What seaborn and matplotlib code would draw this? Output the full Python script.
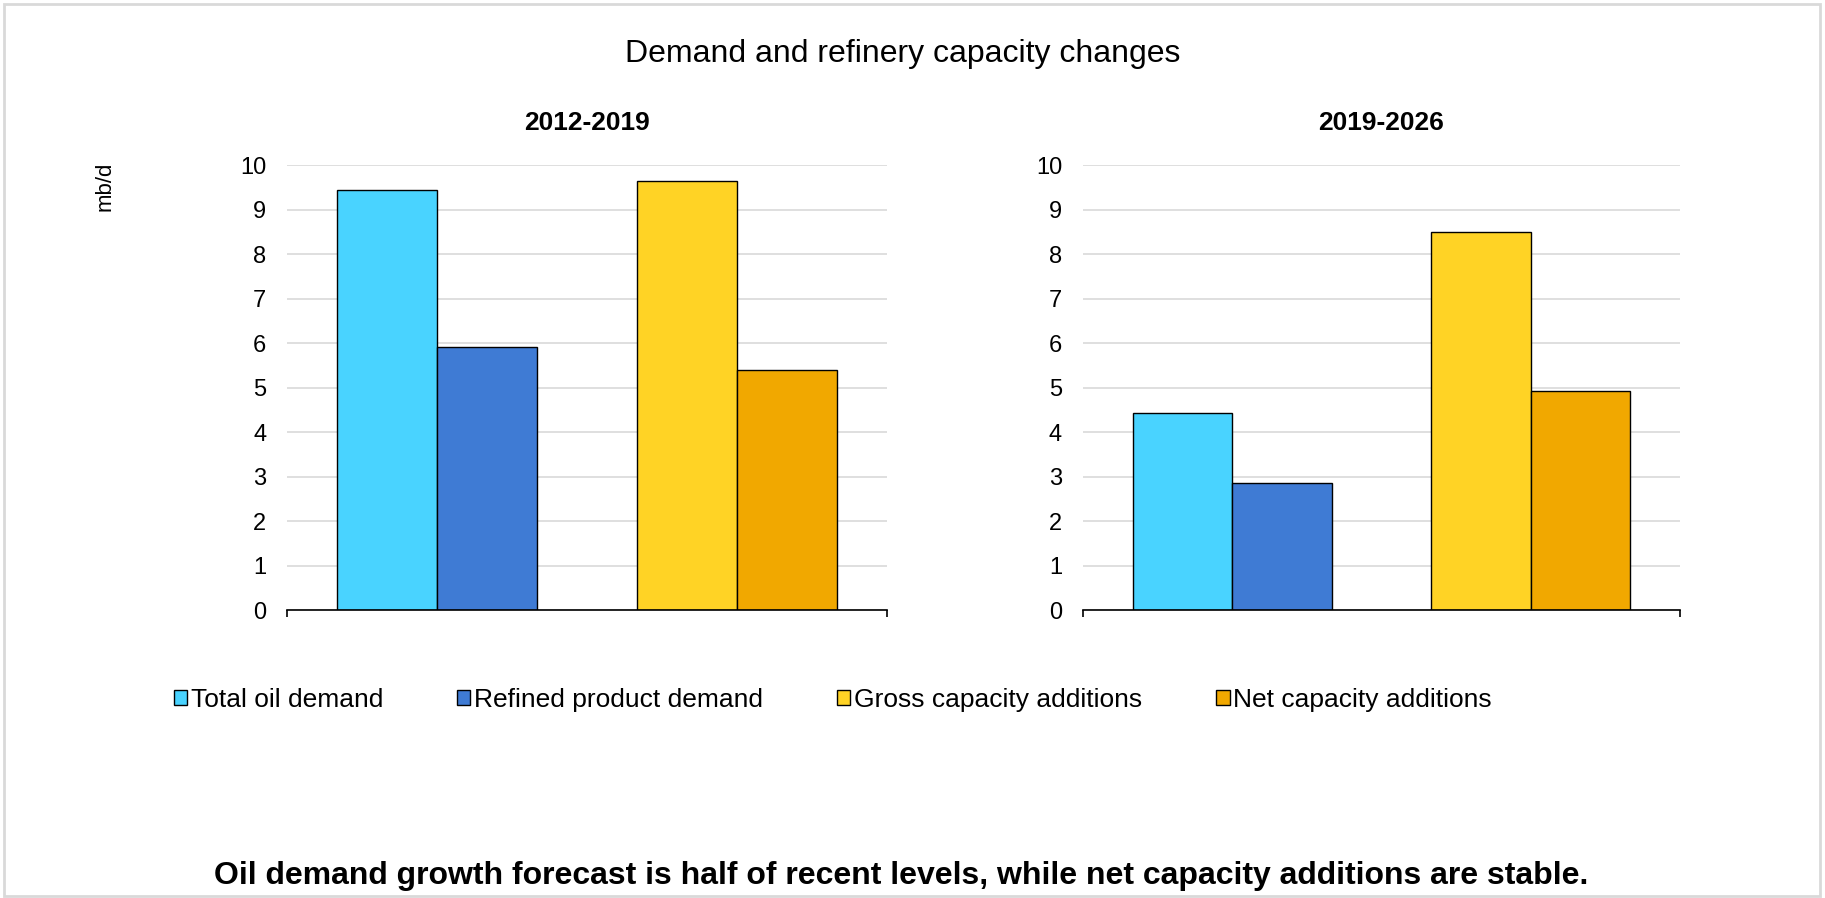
import matplotlib
matplotlib.use("Agg")
import matplotlib.pyplot as plt
import matplotlib.patches as mpatches
import numpy as np
import pandas as pd
import seaborn as sns

# data (mb/d)
periods = ["2012-2019", "2019-2026"]
series = ["Total oil demand", "Refined product demand",
          "Gross capacity additions", "Net capacity additions"]
groups = ["Demand", "Demand", "Capacity", "Capacity"]
slots = ["first", "second", "first", "second"]
values_2012_2019 = [9.45, 5.90, 9.65, 5.40]
values_2019_2026 = [4.42, 2.85, 8.50, 4.92]
colors = ["#49D3FF", "#3F7BD4", "#FFD325", "#F1A800"]
yticks = list(range(0, 11))

sns.set_theme(style="white")
plt.rcParams["font.family"] = ["Liberation Sans", "DejaVu Sans"]
plt.rcParams["text.color"] = "black"
plt.rcParams["xtick.color"] = "black"
plt.rcParams["ytick.color"] = "black"
plt.rcParams["axes.labelcolor"] = "black"

rows = []
for period, vals in zip(periods, [values_2012_2019, values_2019_2026]):
    for s, g, sl, v in zip(series, groups, slots, vals):
        rows.append({"period": period, "series": s, "group": g, "slot": sl, "value": v})
df = pd.DataFrame(rows)
color_of = dict(zip(series, colors))

fig = plt.figure(figsize=(18.25, 8.98), dpi=100)
ax_pos = [[0.1573, 0.3207, 0.3288, 0.4955], [0.5934, 0.3207, 0.3271, 0.4955]]

for i, period in enumerate(periods):
    ax = fig.add_axes(ax_pos[i])
    sub = df[df["period"] == period]
    sns.barplot(data=sub, x="group", y="value", hue="slot",
                order=["Demand", "Capacity"], hue_order=["first", "second"],
                dodge=True, width=0.667, edgecolor="black", linewidth=1.0,
                palette=["#999999", "#999999"], legend=False, ax=ax)
    # recolour every bar by its series
    for cont, sl in zip(ax.containers, ["first", "second"]):
        for bar, g in zip(cont.patches, ["Demand", "Capacity"]):
            name = sub[(sub["group"] == g) & (sub["slot"] == sl)]["series"].iloc[0]
            bar.set_facecolor(color_of[name])
    ax.set_xlim(-0.5, 1.5)
    ax.set_ylim(0, 10)
    ax.set_yticks(yticks)
    ax.set_yticklabels([str(t) for t in yticks], fontsize=17)
    ax.yaxis.grid(True, color="#D9D9D9", linewidth=1.2)
    ax.set_axisbelow(True)
    ax.set_xticks([-0.5, 1.5])
    ax.set_xticklabels(["", ""])
    ax.tick_params(axis="x", direction="out", length=5, width=1.2, color="black", bottom=True)
    ax.tick_params(axis="y", length=0, pad=15)
    for side in ["top", "right", "left"]:
        ax.spines[side].set_visible(False)
    ax.spines["bottom"].set_color("black")
    ax.spines["bottom"].set_linewidth(1.2)
    ax.set_xlabel("")
    ax.set_ylabel("")
    ax.set_title(period, fontsize=19, fontweight="bold", pad=25)

fig.text(0.4946, 0.94, "Demand and refinery capacity changes", ha="center", va="center", fontsize=23)
fig.text(0.0575, 0.792, "mb/d", rotation=90, ha="center", va="center", fontsize=16)

handles = [mpatches.Patch(facecolor=c, edgecolor="black", linewidth=1.0, label=s)
           for s, c in zip(series, colors)]
fig.legend(handles=handles, loc="center left", bbox_to_anchor=(0.0894, 0.2205), ncol=4,
           frameon=False, fontsize=19, handlelength=0.5, handleheight=0.5,
           handletextpad=0.15, columnspacing=2.8, borderaxespad=0)

fig.text(0.494, 0.024, "Oil demand growth forecast is half of recent levels, while net capacity additions are stable.",
         ha="center", va="center", fontsize=23, fontweight="bold")

fig.patches.append(mpatches.Rectangle((0.002, 0.002), 0.995, 0.993, transform=fig.transFigure,
                                      fill=False, edgecolor="#D9D9D9", linewidth=2))

fig.savefig("out.png", dpi=100)
